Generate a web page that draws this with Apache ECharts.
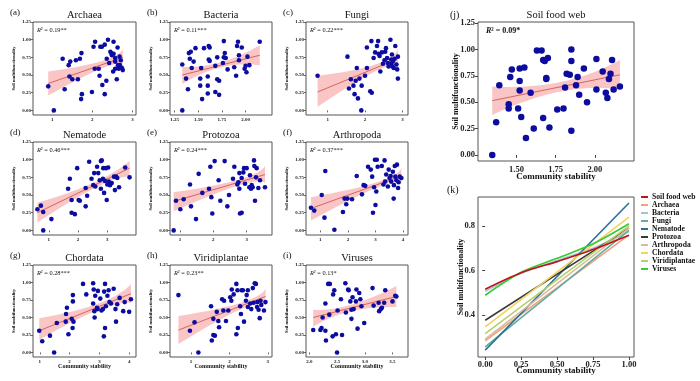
<!DOCTYPE html>
<html><head><meta charset="utf-8">
<script src="https://cdn.jsdelivr.net/npm/echarts@6/dist/echarts.min.js"></script>
<style>html,body{margin:0;padding:0;background:#fff}#c{width:700px;height:381px}</style>
</head><body><div id="c"></div>
<script>
// ---------------- DATA ----------------
const smallYTicks = [0, 0.25, 0.5, 0.75, 1.0, 1.25];

const archaeaX = [0.90,1.04,1.26,1.31,1.41,1.45,1.43,1.50,1.59,1.64,1.69,1.73,1.74,1.72,1.99,2.03,2.07,2.06,2.16,2.18,2.20,2.24,2.25,2.31,2.31,2.35,2.39,2.36,2.42,2.45,2.47,2.49,2.53,2.53,2.52,2.57,2.57,2.61,2.63,2.64,2.68,2.66,2.69,2.71,2.74,2.76,2.57];
const archaeaY = [0.34,0.00,0.73,0.30,0.64,0.69,0.48,0.44,0.71,0.44,0.73,0.81,0.23,0.16,0.26,0.90,0.97,0.59,0.59,0.49,0.90,0.90,0.36,0.93,0.23,0.42,1.00,0.73,0.67,0.83,0.81,0.78,0.97,0.80,0.55,0.59,0.74,0.44,0.89,0.64,0.76,0.59,0.64,0.71,0.60,0.57,0.69];
const archaeaFitX = [0.90, 2.76], archaeaFitY = [0.38, 0.75];
const archaeaBandX = [0.90, 2.2, 2.76], archaeaBandLo = [0.21, 0.585, 0.65], archaeaBandHi = [0.55, 0.69, 0.86];
const archaeaTicksX = [1, 2, 3];

const bacteriaX = [1.33,1.33,1.37,1.39,1.40,1.42,1.41,1.43,1.45,1.47,1.52,1.52,1.53,1.54,1.56,1.60,1.60,1.61,1.60,1.61,1.62,1.62,1.68,1.68,1.70,1.70,1.72,1.72,1.76,1.77,1.77,1.78,1.79,1.81,1.88,1.90,1.91,1.92,1.93,1.93,1.96,1.99,2.00,2.01,2.02,2.04,2.15];
const bacteriaY = [0.00,0.65,0.45,0.30,0.81,0.83,0.73,0.60,0.69,0.88,0.45,0.35,0.60,0.16,0.88,0.35,0.48,0.72,0.24,0.91,0.89,0.70,0.26,0.63,0.75,0.44,0.42,0.22,0.67,0.98,0.75,0.81,0.74,0.58,0.61,0.49,0.91,0.97,0.78,0.71,0.89,0.59,0.63,0.54,0.76,0.64,0.97];
const bacteriaFitX = [1.33, 2.15], bacteriaFitY = [0.50, 0.78];
const bacteriaBandX = [1.33, 1.74, 2.15], bacteriaBandLo = [0.375, 0.61, 0.64], bacteriaBandHi = [0.615, 0.68, 0.92];
const bacteriaTicksX = [1.25, 1.5, 1.75, 2.0];

const fungiX = [0.73,1.53,1.57,1.62,1.69,1.72,1.75,1.78,1.81,1.85,1.90,1.91,2.00,2.05,2.05,2.14,2.18,2.17,2.23,2.27,2.32,2.35,2.36,2.39,2.41,2.45,2.48,2.52,2.54,2.56,2.59,2.61,2.68,2.70,2.71,2.73,2.75,2.77,2.79,2.81,2.84,2.86,2.88,2.88,2.72,2.63];
const fungiY = [0.49,0.76,0.31,0.44,0.35,0.23,0.42,0.60,0.17,0.45,0.00,0.35,0.49,0.60,0.89,0.27,0.25,0.98,0.74,0.82,0.91,0.98,0.80,0.77,0.55,0.82,0.66,0.71,0.83,0.88,0.74,0.67,1.00,0.72,0.66,0.62,0.70,0.60,0.73,0.91,0.65,0.58,0.76,0.45,0.79,0.62];
const fungiFitX = [0.73, 2.88], fungiFitY = [0.26, 0.73];
const fungiBandX = [0.73, 2.3, 2.88], fungiBandLo = [0.05, 0.56, 0.59], fungiBandHi = [0.49, 0.65, 0.87];
const fungiTicksX = [1, 2, 3];

const nematodeX = [0.61,0.73,0.81,0.81,1.09,1.66,1.72,1.78,1.78,1.89,1.97,2.02,2.06,2.26,2.26,2.31,2.38,2.46,2.52,2.55,2.59,2.65,2.69,2.74,2.78,2.81,2.78,2.85,2.86,2.89,2.92,2.95,2.98,3.00,3.03,3.05,3.09,3.15,3.23,3.26,3.30,3.34,3.40,3.61,3.76];
const nematodeY = [0.30,0.35,0.26,0.00,0.16,0.59,0.73,0.43,0.25,0.23,0.88,0.43,0.42,0.60,0.34,0.49,0.97,0.73,0.64,0.81,0.62,0.90,0.81,0.71,0.98,0.99,0.59,0.73,0.88,0.53,0.70,0.88,0.43,0.65,0.89,0.69,0.64,0.67,0.76,0.57,0.76,0.74,0.61,0.89,0.75];
const nematodeFitX = [0.61, 3.76], nematodeFitY = [0.25, 0.88];
const nematodeBandX = [0.61, 2.52, 3.76], nematodeBandLo = [0.11, 0.59, 0.77], nematodeBandHi = [0.39, 0.67, 0.98];
const nematodeTicksX = [1, 2, 3];

const protozoaX = [0.81,0.88,1.01,1.11,1.30,1.33,1.48,1.56,1.67,1.87,1.91,1.94,1.97,2.04,2.16,2.21,2.34,2.42,2.47,2.59,2.63,2.72,2.75,2.78,2.78,2.80,2.85,2.85,2.90,2.92,2.95,3.00,3.08,3.10,3.13,3.15,3.18,3.22,3.23,3.25,3.28,3.30,3.35,3.40,3.55];
const protozoaY = [0.00,0.42,0.30,0.44,0.65,0.34,0.16,0.80,0.53,0.59,0.90,0.47,0.24,0.98,0.71,0.42,0.98,0.34,0.50,0.73,0.90,0.65,0.68,0.81,0.59,0.24,0.25,0.74,0.82,0.88,0.66,0.88,0.61,0.78,0.59,0.64,0.61,0.99,0.91,0.42,0.75,0.88,0.60,0.71,0.61];
const protozoaFitX = [0.81, 3.55], protozoaFitY = [0.41, 0.79];
const protozoaBandX = [0.81, 2.75, 3.55], protozoaBandLo = [0.27, 0.635, 0.67], protozoaBandHi = [0.54, 0.715, 0.91];
const protozoaTicksX = [1, 2, 3];

const arthropodaX = [0.66,0.78,1.05,1.15,1.18,1.51,1.82,1.88,1.94,1.98,2.15,2.32,2.51,2.57,2.63,2.73,2.83,2.88,2.91,2.95,2.98,3.00,3.03,3.05,3.08,3.23,3.29,3.33,3.35,3.39,3.45,3.48,3.51,3.55,3.57,3.63,3.66,3.67,3.70,3.72,3.76,3.78,3.82,3.84,3.88,3.94];
const arthropodaY = [0.32,0.28,0.50,0.18,0.84,0.01,0.26,0.45,0.37,0.45,0.44,0.77,0.51,0.64,0.63,0.90,0.86,0.76,0.25,0.61,1.00,0.36,0.55,1.00,0.90,0.91,0.65,0.99,0.69,0.79,0.62,0.86,0.74,0.77,0.69,0.83,0.45,0.64,0.91,0.76,0.71,0.93,0.60,0.68,0.76,0.74];
const arthropodaFitX = [0.66, 3.94], arthropodaFitY = [0.31, 0.77];
const arthropodaBandX = [0.66, 3.03, 3.94], arthropodaBandLo = [0.14, 0.605, 0.67], arthropodaBandHi = [0.47, 0.68, 0.88];
const arthropodaTicksX = [1, 2, 3, 4];

const chordataX = [0.98,1.08,1.34,1.48,1.57,1.87,1.88,1.91,1.96,2.07,2.10,2.11,2.11,2.13,2.45,2.56,2.79,2.79,2.81,2.83,2.84,2.86,2.92,2.94,2.95,3.03,3.07,3.12,3.15,3.16,3.19,3.19,3.22,3.27,3.31,3.34,3.39,3.48,3.54,3.56,3.60,3.68,3.80,3.85,4.00,4.06];
const chordataY = [0.31,0.16,0.24,0.00,0.42,0.44,0.55,0.64,0.26,0.48,0.35,0.82,0.73,0.44,0.98,0.83,0.99,0.70,0.90,0.59,0.50,0.81,0.64,0.62,0.88,0.77,0.60,0.62,0.23,0.87,0.35,0.98,0.66,0.81,0.89,0.72,0.70,0.91,0.62,0.44,0.69,0.78,0.59,0.72,0.58,0.76];
const chordataFitX = [0.98, 4.06], chordataFitY = [0.31, 0.84];
const chordataBandX = [0.98, 2.92, 4.06], chordataBandLo = [0.18, 0.60, 0.71], chordataBandHi = [0.49, 0.69, 0.97];
const chordataTicksX = [1, 2, 3, 4];

const viridiX = [0.67,0.97,1.09,1.19,1.52,1.54,1.58,1.58,1.62,1.67,1.71,1.73,1.81,1.84,1.86,1.91,1.97,2.02,2.05,2.06,2.11,2.18,2.18,2.21,2.22,2.28,2.30,2.32,2.35,2.38,2.43,2.45,2.48,2.48,2.54,2.57,2.61,2.63,2.66,2.69,2.72,2.73,2.76,2.79,2.81,2.83,2.90,2.94];
const viridiY = [0.82,0.31,0.43,0.00,0.66,0.17,0.25,0.48,0.24,0.58,0.45,0.36,0.76,0.60,0.74,0.45,0.60,0.79,0.74,0.90,0.83,0.98,0.26,0.89,0.35,0.66,0.55,0.89,0.89,0.44,0.74,0.82,0.89,0.65,0.70,0.62,0.92,0.71,0.99,0.98,0.65,0.72,0.61,0.49,0.74,0.68,0.60,0.72];
const viridiFitX = [0.67, 2.94], viridiFitY = [0.32, 0.80];
const viridiBandX = [0.67, 2.3, 2.94], viridiBandLo = [0.12, 0.62, 0.67], viridiBandHi = [0.52, 0.71, 0.91];
const viridiTicksX = [1, 2, 3];

const virusesX = [2.07,2.20,2.22,2.24,2.29,2.29,2.30,2.34,2.37,2.36,2.42,2.43,2.45,2.48,2.50,2.51,2.57,2.59,2.65,2.66,2.70,2.71,2.74,2.76,2.76,2.78,2.80,2.84,2.85,2.87,2.90,2.92,2.94,2.99,3.14,3.16,3.25,3.26,3.29,3.31,3.35,3.37,3.50,3.55,3.57];
const virusesY = [0.32,0.32,0.35,0.50,0.31,0.70,0.17,0.98,0.98,0.54,0.23,0.83,0.89,0.26,0.00,0.60,0.76,0.25,0.99,0.57,0.90,0.89,0.73,0.61,0.48,0.79,0.62,0.73,0.90,0.34,0.85,0.76,0.66,0.42,0.92,0.67,0.71,0.59,0.62,0.64,0.71,0.89,0.73,0.81,0.80];
const virusesFitX = [2.07, 3.57], virusesFitY = [0.50, 0.80];
const virusesBandX = [2.07, 2.75, 3.57], virusesBandLo = [0.37, 0.59, 0.65], virusesBandHi = [0.61, 0.68, 0.95];
const virusesTicksX = [2.0, 2.5, 3.0, 3.5];

const sfwX = [1.345,1.37,1.39,1.45,1.45,1.46,1.47,1.51,1.52,1.52,1.52,1.53,1.55,1.56,1.59,1.61,1.63,1.66,1.67,1.67,1.68,1.69,1.69,1.70,1.71,1.76,1.80,1.81,1.82,1.84,1.85,1.85,1.85,1.88,1.89,1.90,1.93,1.95,2.01,2.01,2.05,2.07,2.08,2.09,2.10,2.11,2.12,2.16];
const sfwY = [0.00,0.31,0.66,0.44,0.48,0.74,0.81,0.44,0.82,0.70,0.61,0.36,0.83,0.16,0.59,0.25,0.99,0.99,0.35,0.90,0.89,0.72,0.73,0.92,0.26,0.43,0.44,0.64,0.77,0.76,1.00,0.89,0.23,0.66,0.74,0.57,0.82,0.50,0.62,0.91,0.79,0.59,0.54,0.72,0.77,0.90,0.62,0.65];
const sfwFitX = [1.345, 2.16], sfwFitY = [0.515, 0.76];
const sfwBandX = [1.345, 1.78, 2.16], sfwBandLo = [0.38, 0.60, 0.62], sfwBandHi = [0.65, 0.69, 0.90];
const sfwTicksX = [1.5, 1.75, 2.0];
const sfwTicksY = [0, 0.25, 0.5, 0.75, 1.0, 1.25];

// panel (k): normalized fits
const kNames = ['Soil food web','Archaea','Bacteria','Fungi','Nematode','Protozoa','Arthropoda','Chordata','Viridiplantae','Viruses'];
const kLineX = {
  'Soil food web':[0,0.25,0.5,0.75,1], 'Archaea':[0,1], 'Bacteria':[0,0.25,0.5,0.75,1], 'Fungi':[0,1], 'Nematode':[0,1],
  'Protozoa':[0,1], 'Arthropoda':[0,1], 'Chordata':[0,1], 'Viridiplantae':[0,1], 'Viruses':[0,0.25,0.5,0.75,1]
};
const kLineY = {
  'Soil food web':[0.516,0.59,0.64,0.694,0.758], 'Archaea':[0.285,0.76], 'Bacteria':[0.507,0.588,0.645,0.70,0.775],
  'Fungi':[0.257,0.78], 'Nematode':[0.243,0.903], 'Protozoa':[0.377,0.79], 'Arthropoda':[0.292,0.79],
  'Chordata':[0.347,0.84], 'Viridiplantae':[0.317,0.80], 'Viruses':[0.489,0.592,0.655,0.72,0.81]
};
const kTicksX = [0, 0.25, 0.5, 0.75, 1.0];
const kTicksY = [0.4, 0.6, 0.8];

// ---------------- LAYOUT / STYLE ----------------
const F = 'Liberation Serif';
const kColors = ['#c0141c','#f2a283','#a9bfd2','#62ad9e','#2a7198','#3a3a3a','#d8bc9c','#f3d35c','#b5cf6b','#33cc33'];
const cols = [33, 170, 306], rowsTop = [22, 142, 265], rowsH = [93, 93, 92];
const smallPanels = [
  {lab:'(a)', title:'Archaea', r2:'0.19**', X:archaeaX, Y:archaeaY, fx:archaeaFitX, fy:archaeaFitY, bx:archaeaBandX, blo:archaeaBandLo, bhi:archaeaBandHi, tx:archaeaTicksX, dec:0, min:0.52, max:3.09},
  {lab:'(b)', title:'Bacteria', r2:'0.11***', X:bacteriaX, Y:bacteriaY, fx:bacteriaFitX, fy:bacteriaFitY, bx:bacteriaBandX, blo:bacteriaBandLo, bhi:bacteriaBandHi, tx:bacteriaTicksX, dec:2, min:1.20, max:2.28},
  {lab:'(c)', title:'Fungi', r2:'0.22***', X:fungiX, Y:fungiY, fx:fungiFitX, fy:fungiFitY, bx:fungiBandX, blo:fungiBandLo, bhi:fungiBandHi, tx:fungiTicksX, dec:0, min:0.42, max:3.15},
  {lab:'(d)', title:'Nematode', r2:'0.46***', X:nematodeX, Y:nematodeY, fx:nematodeFitX, fy:nematodeFitY, bx:nematodeBandX, blo:nematodeBandLo, bhi:nematodeBandHi, tx:nematodeTicksX, dec:0, min:0.46, max:3.98},
  {lab:'(e)', title:'Protozoa', r2:'0.24***', X:protozoaX, Y:protozoaY, fx:protozoaFitX, fy:protozoaFitY, bx:protozoaBandX, blo:protozoaBandLo, bhi:protozoaBandHi, tx:protozoaTicksX, dec:0, min:0.70, max:3.76},
  {lab:'(f)', title:'Arthropoda', r2:'0.37***', X:arthropodaX, Y:arthropodaY, fx:arthropodaFitX, fy:arthropodaFitY, bx:arthropodaBandX, blo:arthropodaBandLo, bhi:arthropodaBandHi, tx:arthropodaTicksX, dec:0, min:0.48, max:4.18},
  {lab:'(g)', title:'Chordata', r2:'0.28***', X:chordataX, Y:chordataY, fx:chordataFitX, fy:chordataFitY, bx:chordataBandX, blo:chordataBandLo, bhi:chordataBandHi, tx:chordataTicksX, dec:0, min:0.77, max:4.23},
  {lab:'(h)', title:'Viridiplantae', r2:'0.23**', X:viridiX, Y:viridiY, fx:viridiFitX, fy:viridiFitY, bx:viridiBandX, blo:viridiBandLo, bhi:viridiBandHi, tx:viridiTicksX, dec:0, min:0.45, max:3.11},
  {lab:'(i)', title:'Viruses', r2:'0.13*', X:virusesX, Y:virusesY, fx:virusesFitX, fy:virusesFitY, bx:virusesBandX, blo:virusesBandLo, bhi:virusesBandHi, tx:virusesTicksX, dec:1, min:1.94, max:3.78}
];

const grids = [], xAxes = [], yAxes = [], series = [], graphics = [];

function addText(x, y, text, size, opts) {
  graphics.push({type:'text', x:x, y:y, silent:true, z:100, style:Object.assign({
    text:text, fontSize:size, fontFamily:F, fill:'#111', align:'left', verticalAlign:'middle'
  }, opts || {})});
}

// confidence band drawn as a path through the library's coordinate mapping
function bandSeries(gi, bx, blo, bhi) {
  return {type:'custom', xAxisIndex:gi, yAxisIndex:gi, silent:true, z:1, clip:true,
    data:[[bx[0], blo[0]]],
    renderItem: function (params, api) {
      const h = bx.map((x,k)=>api.coord([x, bhi[k]]));
      const l = bx.map((x,k)=>api.coord([x, blo[k]]));
      const ctl = (p) => [2*p[1][0] - (p[0][0]+p[2][0])/2, 2*p[1][1] - (p[0][1]+p[2][1])/2];
      const ch = ctl(h), cl = ctl(l);
      const d = 'M' + h[0][0] + ' ' + h[0][1] + ' Q' + ch[0] + ' ' + ch[1] + ' ' + h[2][0] + ' ' + h[2][1] +
        ' L' + l[2][0] + ' ' + l[2][1] + ' Q' + cl[0] + ' ' + cl[1] + ' ' + l[0][0] + ' ' + l[0][1] + ' Z';
      return {type:'path', shape:{pathData:d}, style:{fill:'#f7b6b6', opacity:0.8, stroke:null}};
    }};
}

function addScatterPanel(p, L, big) {
  const gi = grids.length;
  grids.push({left:L.left, top:L.top, width:L.width, height:L.height, show:true, borderColor:'#555', borderWidth:1,
    backgroundColor:'transparent', containLabel:false, outerBoundsMode:'none'});
  const lblSize = big ? 8.5 : 5;
  xAxes.push({gridIndex:gi, type:'value', min:p.min, max:p.max,
    axisLine:{show:false}, splitLine:{show:false},
    axisTick:{show:true, length:big?3:2, customValues:p.tx, lineStyle:{color:'#444', width:big?1:0.8}},
    axisLabel:{customValues:p.tx, formatter:(v)=>Number(v).toFixed(p.dec), fontSize:lblSize, margin:big?4:2,
      fontFamily:F, fontWeight:'bold', color:'#222'},
    name:L.xname || '', nameLocation:'middle', nameGap:L.xnameGap || 7, nameMoveOverlap:false,
    nameTextStyle:{fontSize:big?9:6, fontFamily:F, fontWeight:'bold', color:'#111'}});
  yAxes.push({gridIndex:gi, type:'value', min:L.ymin, max:L.ymax,
    axisLine:{show:false}, splitLine:{show:false},
    axisTick:{show:true, length:big?3:2, customValues:p.ty, lineStyle:{color:'#444', width:big?1:0.8}},
    axisLabel:{customValues:p.ty, formatter:(v)=>Number(v).toFixed(2), fontSize:lblSize, margin:big?3:2,
      fontFamily:F, fontWeight:'bold', color:'#222'},
    name:'Soil multifunctionality', nameLocation:'middle', nameGap:L.ynameGap, nameMoveOverlap:false,
    nameTextStyle:{fontSize:big?8:4.6, fontFamily:F, fontWeight:'bold', color:'#111'}});
  series.push(bandSeries(gi, p.bx, p.blo, p.bhi));
  series.push({type:'line', xAxisIndex:gi, yAxisIndex:gi, symbol:'none', silent:true,
    lineStyle:{color:'#d8645f', width:1}, data:p.fx.map((x,k)=>[x, p.fy[k]]), z:2});
  series.push({type:'scatter', xAxisIndex:gi, yAxisIndex:gi, symbolSize:big?6.5:4.6, silent:true,
    itemStyle:{color:'#0c0ca0', opacity:1}, data:p.X.map((x,k)=>[x, p.Y[k]]), z:3});
}

smallPanels.forEach((p, i) => {
  const r = Math.floor(i / 3), c = i % 3;
  p.ty = smallYTicks;
  const L = {left:cols[c], top:rowsTop[r], width:(c===0?103:102), height:rowsH[r], ymin:-0.065, ymax:1.25,
    ynameGap:17, xname: r===2 ? 'Community stability' : '', xnameGap:6};
  addScatterPanel(p, L, false);
  const cx = L.left + L.width / 2;
  addText(cx, L.top - 7, p.title, 10.5, {align:'center'});
  addText(L.left - 23, L.top - 9, p.lab, 9, {});
  addText(L.left + 4, L.top + 8.5, '{i|R}² = ' + p.r2, 6.3, {rich:{i:{fontStyle:'italic', fontSize:6.3, fontFamily:F}}});
});

// panel (j)
const sfwPanel = {X:sfwX, Y:sfwY, fx:sfwFitX, fy:sfwFitY, bx:sfwBandX, blo:sfwBandLo, bhi:sfwBandHi, tx:sfwTicksX, ty:sfwTicksY, dec:2, min:1.254, max:2.25};
addScatterPanel(sfwPanel, {left:478, top:22, width:156, height:139, ymin:-0.057, ymax:1.26, ynameGap:18,
  xname:'Community stability', xnameGap:11}, true);
addText(556, 15, 'Soil food web', 10.5, {align:'center'});
addText(450, 15, '(j)', 10, {});
addText(486, 31, '{i|R}² = 0.09*', 8, {fontWeight:'bold', rich:{i:{fontStyle:'italic', fontWeight:'bold', fontSize:8, fontFamily:F}}});

// panel (k)
const gk = grids.length;
grids.push({left:478, top:197, width:156, height:160, show:true, borderColor:'#555', borderWidth:1,
  backgroundColor:'transparent', containLabel:false, outerBoundsMode:'none'});
xAxes.push({gridIndex:gk, type:'value', min:-0.05, max:1.035, axisLine:{show:false}, splitLine:{show:false},
  axisTick:{show:true, length:3, customValues:kTicksX, lineStyle:{color:'#444'}},
  axisLabel:{customValues:kTicksX, formatter:(v)=>Number(v).toFixed(2), fontSize:8.5, margin:3, fontFamily:F, fontWeight:'bold', color:'#222'},
  name:'Community stability', nameLocation:'middle', nameGap:9, nameMoveOverlap:false,
  nameTextStyle:{fontSize:9, fontFamily:F, fontWeight:'bold', color:'#111'}});
yAxes.push({gridIndex:gk, type:'value', min:0.212, max:0.93, axisLine:{show:false}, splitLine:{show:false},
  axisTick:{show:true, length:3, customValues:kTicksY, lineStyle:{color:'#444'}},
  axisLabel:{customValues:kTicksY, formatter:(v)=>Number(v).toFixed(1), fontSize:8.5, margin:3, fontFamily:F, fontWeight:'bold', color:'#222'},
  name:'Soil multifunctionality', nameLocation:'middle', nameGap:13, nameMoveOverlap:false,
  nameTextStyle:{fontSize:8, fontFamily:F, fontWeight:'bold', color:'#111'}});
kNames.forEach((n, i) => {
  series.push({type:'line', name:n, xAxisIndex:gk, yAxisIndex:gk, symbol:'none', smooth:kLineX[n].length>2 ? 0.3 : false,
    silent:true, color:kColors[i], itemStyle:{color:kColors[i]}, lineStyle:{color:kColors[i], width:1.6},
    data:kLineX[n].map((x,k)=>[x, kLineY[n][k]]), z:2 + (i===0?5:0)});
});
addText(447, 190, '(k)', 10, {});

const chart = echarts.init(document.getElementById('c'), null, {renderer:'canvas'});
chart.setOption({
  animation:false,
  backgroundColor:'#fff',
  textStyle:{fontFamily:F},
  grid:grids, xAxis:xAxes, yAxis:yAxes, series:series,
  legend:{data:kNames, orient:'vertical', left:641, top:193, itemWidth:7, itemHeight:2, itemGap:0, icon:'rect',
    textStyle:{fontSize:7.6, fontFamily:F, fontWeight:'bold', color:'#111', lineHeight:7.45, padding:[0,0,0,-1]},
    padding:0, selectedMode:false},
  graphic:graphics
});
</script></body></html>
